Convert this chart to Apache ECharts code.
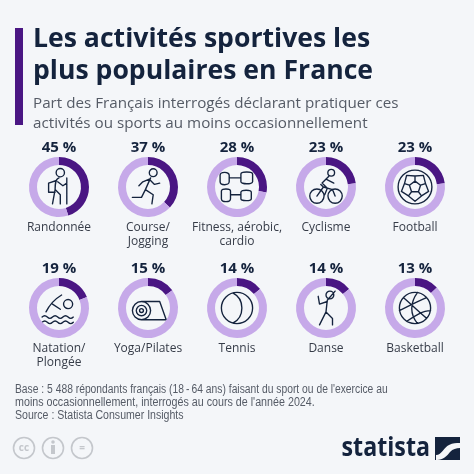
<!DOCTYPE html>
<html><head><meta charset="utf-8">
<script src="https://cdn.jsdelivr.net/npm/echarts@6/dist/echarts.min.js"></script>
<style>html,body{margin:0;padding:0;background:#fff}#c{width:474px;height:474px}</style>
</head><body><div id="c"></div>
<script>
// ---- data ----
const categories = ['Randonnée','Course/\nJogging','Fitness, aérobic,\ncardio','Cyclisme','Football','Natation/\nPlongée','Yoga/Pilates','Tennis','Danse','Basketball'];
const shares = [45,37,28,23,23,19,15,14,14,13];
const percentLabels = shares.map(v => v + ' %');
const iconKeys = ['hiker','runner','fitness','cyclist','football','swimmer','yoga','tennis','dancer','basketball'];
const noteLines = ['Base : 5 488 répondants français (18\u2009-\u200964 ans) faisant du sport ou de l\'exercice au','moins occasionnellement, interrogés au cours de l\'année 2024.','Source : Statista Consumer Insights'];

// ---- layout / style ----
const colX = [59,148,237,326,415];
const rowY = [187,308];
const noteY = [390,403,416];
const noteWidth = [353,288,159];
const DARK = '#4a1683', LIGHT = '#c6a9e9', INK = '#14233d', TEXT = '#363c48', NOTE = '#555b66';
const FONT = '"Open Sans", "Noto Sans", sans-serif';
const NOTE_FONT = '11px "Open Sans", "Noto Sans", sans-serif';

function circ(x,y,r){return 'M'+(x+r)+','+y+' A'+r+','+r+' 0 1 0 '+(x-r)+','+y+' A'+r+','+r+' 0 1 0 '+(x+r)+','+y+' ';}
function pentagon(r, rot){ let p=[]; for(let k=0;k<5;k++){const a=(rot+72*k)*Math.PI/180; p.push([r*Math.cos(a),r*Math.sin(a)]);} return p; }
const pent = pentagon(4.5,-90);
const pentPath = 'M' + pent.map(p=>p[0].toFixed(2)+','+p[1].toFixed(2)).join(' L') + ' Z';
const pentSpokes = pent.map(p=>{const m=Math.hypot(p[0],p[1]);return 'M'+p[0].toFixed(2)+','+p[1].toFixed(2)+' L'+(p[0]/m*8.5).toFixed(2)+','+(p[1]/m*8.5).toFixed(2);}).join(' ');
const o1 = pentagon(8.5,-90), o2 = pentagon(11,-54);
const pentOuter = o1.map((p,k)=>{const q=o2[k], r=o1[(k+1)%5];return 'M'+p[0].toFixed(2)+','+p[1].toFixed(2)+' L'+q[0].toFixed(2)+','+q[1].toFixed(2)+' L'+r[0].toFixed(2)+','+r[1].toFixed(2);}).join(' ');

const icons = {
  hiker: circ(1,-11,3.2)+'M0,-7 C-3,-6 -3,-2 -3,2 L-5,13 M-3,2 L1,6 L1,13 M-2,-5 L-8,-3 L-8,4 L-3,4 M-1,-4 L3,-1 L6,-3 M6,-7 L6,13',
  runner: circ(4,-11,3)+'M2,-7 L-2,2 M1,-6 L-4,-4 L-7,-1 M1,-6 L5,-2 L9,-3 M-2,2 L4,6 L3,13 M-2,2 L-5,8 L-12,8',
  fitness: 'M-13,-9 C-13,-12 -6,-12 -6,-9 L-6,-4 C-6,-1 -13,-1 -13,-4 Z M-6,-7 L3,-7 M3,-10 C3,-12 12,-12 12,-10 L12,-4 C12,-2 3,-2 3,-4 Z M-12,3 C-12,1 -5,1 -5,3 L-5,9 C-5,12 -12,12 -12,9 Z M-5,6 L3,6 M3,4 C3,2 11,2 11,4 L11,9 C11,11 3,11 3,9 Z',
  cyclist: circ(-7,7,5.5)+circ(7,7,5.5)+circ(4,-11,2.6)+'M-7,7 L-2,0 L5,2 L7,7 M-2,0 L-4,-2 M2,-8 L-3,-3 L1,1 L-1,6 M0,-6 L6,-3',
  football: circ(0,0,13)+pentPath+' '+pentSpokes+' '+pentOuter,
  swimmer: circ(7,-3,3.5)+'M-10,3 C-7,-3 -3,-7 2,-10 M-5,-3 L1,1 M-13,7 q2,-2 4,0 t4,0 t4,0 t4,0 t4,0 t4,0 M-13,11 q2,-2 4,0 t4,0 t4,0 t4,0 t4,0 t4,0',
  yoga: circ(-5,2,7)+circ(-5,2,4)+circ(-5,2,1.5)+'M-5,-5 L9,-5 L14,9 L-5,9',
  tennis: circ(0,0,12)+'M-3,-11.5 C6,-7 6,7 -3,11.5',
  dancer: circ(3,-10,3)+'M1,-6 L0,3 M1,-6 L7,-13 M1,-5 L-5,-3 L-6,-9 M0,3 L-5,13 M0,3 L5,8 L5,13',
  basketball: circ(0,0,12)+'M-9,-8 C-2,-2 4,4 9,8 M2,-12 C-4,-4 -4,5 2,12 M-12,2 C-4,-2 4,-6 9,-8 M-6,10 C0,6 6,2 12,2'
};
Object.keys(icons).forEach(k=>{
  echarts.graphic.registerShape('icon_'+k, echarts.graphic.extendPath(icons[k], {}));
});
echarts.graphic.registerShape('logo_wave', echarts.graphic.extendPath('M436,455 C442,455 444,447 449,445 C453,443 456,443 460,443 L460,448 C456,448 453,449 450,452 C447,456 443,460 437,460 L436,460 Z', {}));

const series = [], graphic = [];
graphic.push({type:'rect', shape:{x:15,y:28,width:8,height:97}, style:{fill:DARK}});
graphic.push({type:'text', x:33, y:23, style:{text:'Les activités sportives les\nplus populaires en France', font:'bold 26.6px '+FONT, lineHeight:32, fill:INK}});
graphic.push({type:'text', x:33, y:94, style:{text:'Part des Français interrogés déclarant pratiquer ces\nactivités ou sports au moins occasionnellement', font:'15.2px '+FONT, lineHeight:20, fill:NOTE}});

shares.forEach((v,i)=>{
  const cx = colX[i%5], cy = rowY[Math.floor(i/5)];
  series.push({
    type:'pie', center:[cx,cy], radius:[22,30], startAngle:90, clockwise:true, silent:true,
    label:{show:false}, labelLine:{show:false}, emphasis:{disabled:true},
    data:[{value:v, name:categories[i], itemStyle:{color:DARK}},{value:100-v, name:'reste '+i, itemStyle:{color:LIGHT}}]
  });
  graphic.push({type:'text', x:cx, y:cy-39, style:{text:percentLabels[i], font:'bold 15px '+FONT, fill:INK, align:'center', verticalAlign:'middle'}});
  graphic.push({type:'text', x:cx, y:cy+34, style:{text:categories[i], font:'12px '+FONT, fill:TEXT, align:'center', verticalAlign:'top', lineHeight:14}});
  graphic.push({type:'icon_'+iconKeys[i], x:cx, y:cy, scaleX:1.3, scaleY:1.3, shape:{}, style:{fill:'none', stroke:INK, lineWidth:1.05, lineCap:'round', lineJoin:'round'}});
});

noteLines.forEach((t,k)=>{
  const w = echarts.format.getTextRect ? null : null;
  graphic.push({type:'text', id:'note'+k, x:15, y:noteY[k], style:{text:t, font:NOTE_FONT, fill:NOTE, verticalAlign:'middle'}});
});
[[24,'cc'],[53,''],[82,'=']].forEach(([x,t])=>{
  graphic.push({type:'circle', shape:{cx:x,cy:448,r:10.5}, style:{fill:'none', stroke:'#c4c7cc', lineWidth:1.6}});
  if(t) graphic.push({type:'text', x:x, y:448, style:{text:t, font:'bold 10px '+FONT, fill:'#c4c7cc', align:'center', verticalAlign:'middle'}});
});
graphic.push({type:'circle', shape:{cx:53,cy:442,r:1.8}, style:{fill:'#c4c7cc'}});
graphic.push({type:'rect', shape:{x:51,y:445,width:4,height:9}, style:{fill:'#c4c7cc'}});
graphic.push({type:'text', x:430, y:462, scaleX:0.86, style:{text:'statista', font:'bold 27px '+FONT, fill:INK, align:'right', verticalAlign:'bottom'}});
graphic.push({type:'rect', shape:{x:435,y:437,width:25,height:23}, style:{fill:INK}});
graphic.push({type:'logo_wave', shape:{}, style:{fill:'#f4f6f9'}});

const chart = echarts.init(document.getElementById('c'));
chart.setOption({backgroundColor:'#f4f6f9', animation:false, series, graphic});

// fit each footnote line to the width it has in the original, using the rendered text bounds
const upd = noteLines.map((t,k)=>{
  const el = chart.getZr().storage.getDisplayList(true).find(e=>e.style && e.style.text===t);
  const w = el ? el.getBoundingRect().width : noteWidth[k];
  return {id:'note'+k, scaleX: Math.min(1, noteWidth[k]/w)};
});
chart.setOption({graphic: upd});
</script></body></html>
